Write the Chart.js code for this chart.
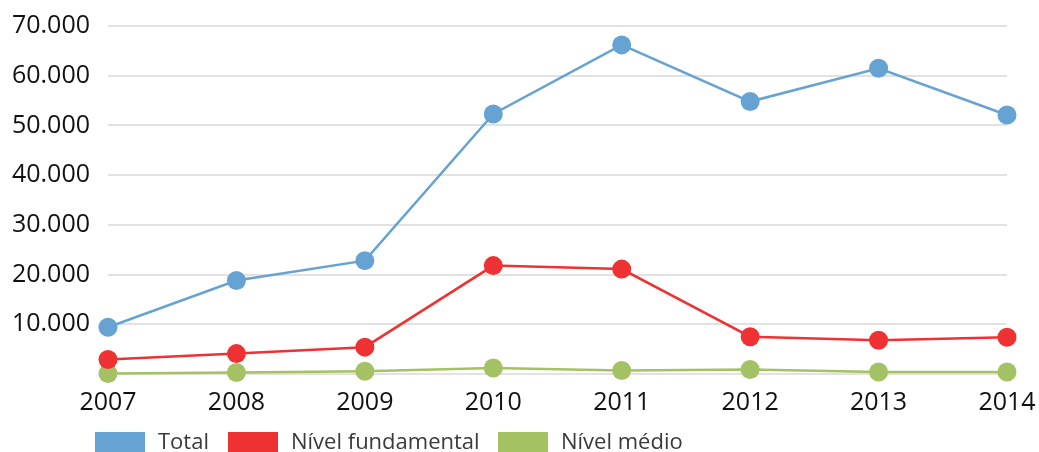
<!DOCTYPE html>
<html>
<head>
<meta charset="utf-8">
<script src="https://cdn.jsdelivr.net/npm/chart.js@4"></script>
<style>
    html, body { margin: 0; padding: 0; background: #ffffff; }
    #wrap { position: relative; width: 1039px; height: 452px; overflow: hidden; }
    #legend { position: absolute; left: 0; top: 0; width: 1039px; height: 452px; pointer-events: none; }
    .item { position: absolute; top: 432px; height: 26px; display: flex; align-items: flex-start; }
    .box { width: 50px; height: 22px; box-sizing: border-box; }
    .txt { margin-left: 13px; font-family: 'Open Sans', sans-serif; font-size: 22px; line-height: 22px; color: #3a3a3a; margin-top: -3px; }
</style>
</head>
<body>
<div id="wrap">
    <canvas id="chart" width="1039" height="452"></canvas>
    <div id="legend"></div>
</div>
<script>
// Años del eje horizontal.
const ANOS = ['2007', '2008', '2009', '2010', '2011', '2012', '2013', '2014'];
// Valores de cada serie.
const TOTAL = [9400, 18800, 22800, 52300, 66200, 54800, 61500, 52100];
const FUNDAMENTAL = [2900, 4100, 5400, 21800, 21100, 7500, 6800, 7400];
const MEDIO = [100, 300, 550, 1200, 700, 900, 400, 400];
// Nombres de las series.
const SERIES = ['Total', 'Nível fundamental', 'Nível médio'];
// Marcas del eje vertical.
const Y_TICKS = [0, 10000, 20000, 30000, 40000, 50000, 60000, 70000];

const COLORES = ['#66a3d2', '#ee3233', '#a4c263'];
const FONT = "'Open Sans', sans-serif";

// Formato con punto como separador de miles.
const formato = (v) => v === 0 ? '' : String(v / 1000) + '.000';

const ctx = document.getElementById('chart').getContext('2d');
const datos = [TOTAL, FUNDAMENTAL, MEDIO];

new Chart(ctx, {
    type: 'line',
    data: {
        labels: ANOS,
        datasets: SERIES.map((nombre, i) => ({
            label: nombre,
            data: datos[i],
            borderColor: COLORES[i],
            backgroundColor: COLORES[i],
            pointBackgroundColor: COLORES[i],
            pointBorderWidth: 0,
            pointRadius: 9.5,
            borderWidth: 2.5,
            tension: 0,
            clip: false
        }))
    },
    options: {
        responsive: false,
        animation: false,
        events: [],
        layout: { padding: { left: 0, right: 32, top: 26, bottom: 18 } },
        plugins: {
            legend: { display: false },
            tooltip: { enabled: false }
        },
        scales: {
            x: {
                offset: false,
                grid: { display: false },
                border: { display: false },
                ticks: { color: '#111111', font: { family: FONT, size: 25 }, padding: 6, maxRotation: 0 },
                // Se fija el alto del eje y se anula el margen automático de las etiquetas.
                afterFit: (s) => { s.height = 60; s.paddingLeft = 0; s.paddingRight = 0; }
            },
            y: {
                min: 0,
                max: 70000,
                afterBuildTicks: (s) => { s.ticks = Y_TICKS.map(v => ({ value: v })); },
                grid: { color: '#e2e2e2', lineWidth: 2, drawTicks: false },
                border: { display: false },
                ticks: { color: '#111111', font: { family: FONT, size: 25 }, padding: 18, callback: formato },
                afterFit: (s) => { s.width = 108; s.paddingTop = 0; s.paddingBottom = 0; }
            }
        }
    }
});

// Leyenda en HTML con las mismas series.
const LEGEND_X = [95, 228, 498];
const legend = document.getElementById('legend');
SERIES.forEach((nombre, i) => {
    const item = document.createElement('div');
    item.className = 'item';
    item.style.left = LEGEND_X[i] + 'px';
    item.innerHTML = `<div class="box" style="background:${COLORES[i]}"></div><div class="txt">${nombre}</div>`;
    legend.appendChild(item);
});
</script>
</body>
</html>
